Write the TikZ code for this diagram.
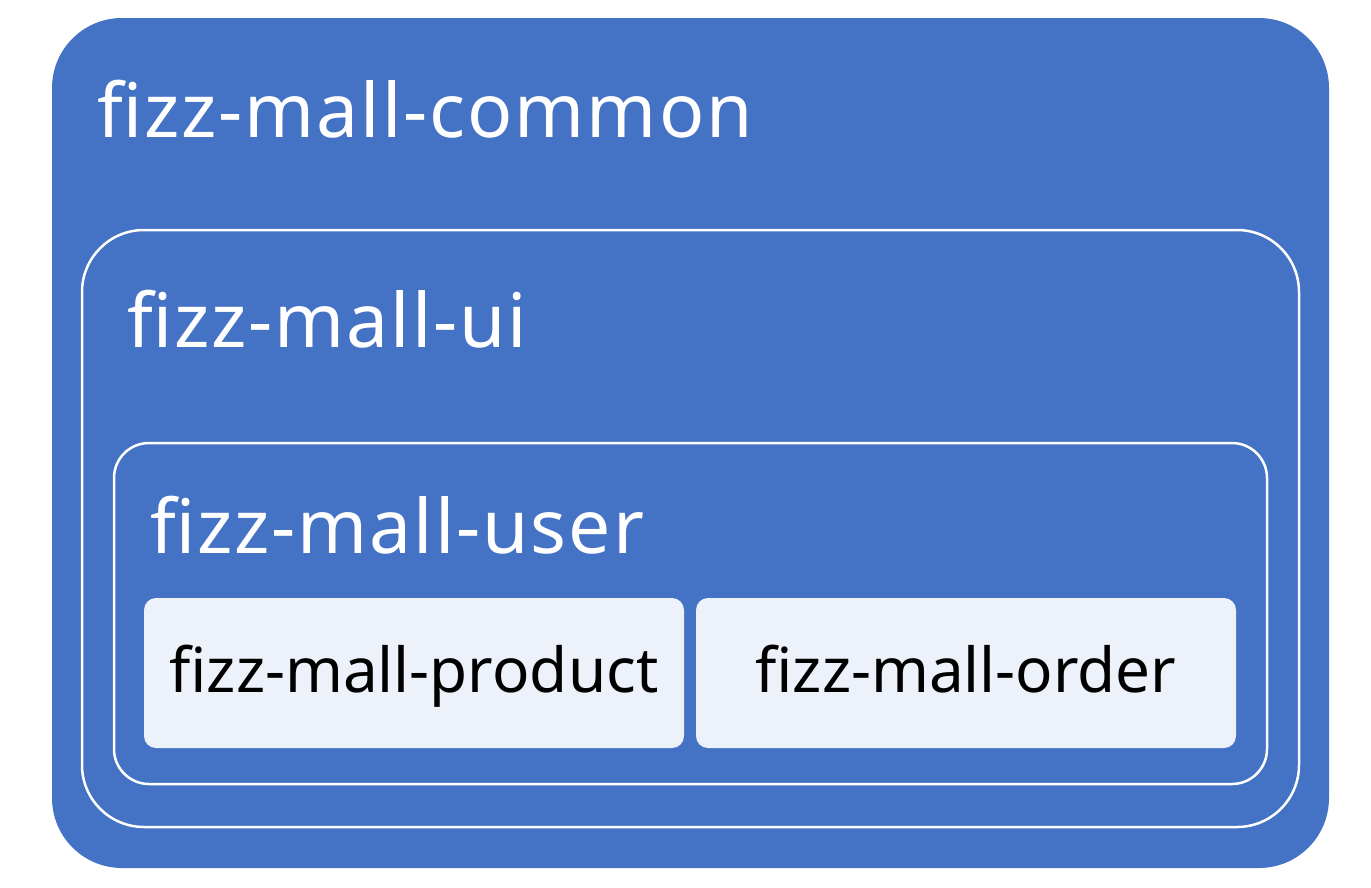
\documentclass[tikz,border=0pt]{standalone}
\usepackage{fontspec}
\setmainfont{Noto Sans}
\newfontfamily\titlefont[LetterSpace=2.6]{Noto Sans}
\definecolor{accblue}{HTML}{4472C4}
\definecolor{paleblue}{HTML}{EDF1F9}
\tikzset{
  frame/.style={draw=white, line width=2.5pt},
  title/.style={anchor=base west, inner sep=0pt, text=white, font=\titlefont\fontsize{75}{80}\selectfont},
  leaf/.style={fill=paleblue, rounded corners=12pt},
  leaftext/.style={anchor=base, inner sep=0pt, text=black, font=\fontsize{62}{66}\selectfont}
}
\begin{document}
\begin{tikzpicture}[x=1pt,y=-1pt]
\useasboundingbox (0,0) rectangle (1371,887);
\fill[accblue, rounded corners=70pt] (52,18) rectangle (1329,868);
\draw[frame, rounded corners=62pt] (82,230) rectangle (1299,827);
\draw[frame, rounded corners=35pt] (114,443) rectangle (1267,784);
\fill[leaf] (144,598) rectangle (684,748);
\fill[leaf] (696,598) rectangle (1236,748);
\node[title] (common) at (97,137) {fizz-mall-common};
\node[title] (ui) at (127,347) {fizz-mall-ui};
\node[title] (user) at (150,553) {fizz-mall-user};
\node[leaftext] (product) at (414,692) {fizz-mall-product};
\node[leaftext] (order) at (966,692) {fizz-mall-order};
\end{tikzpicture}
\end{document}
